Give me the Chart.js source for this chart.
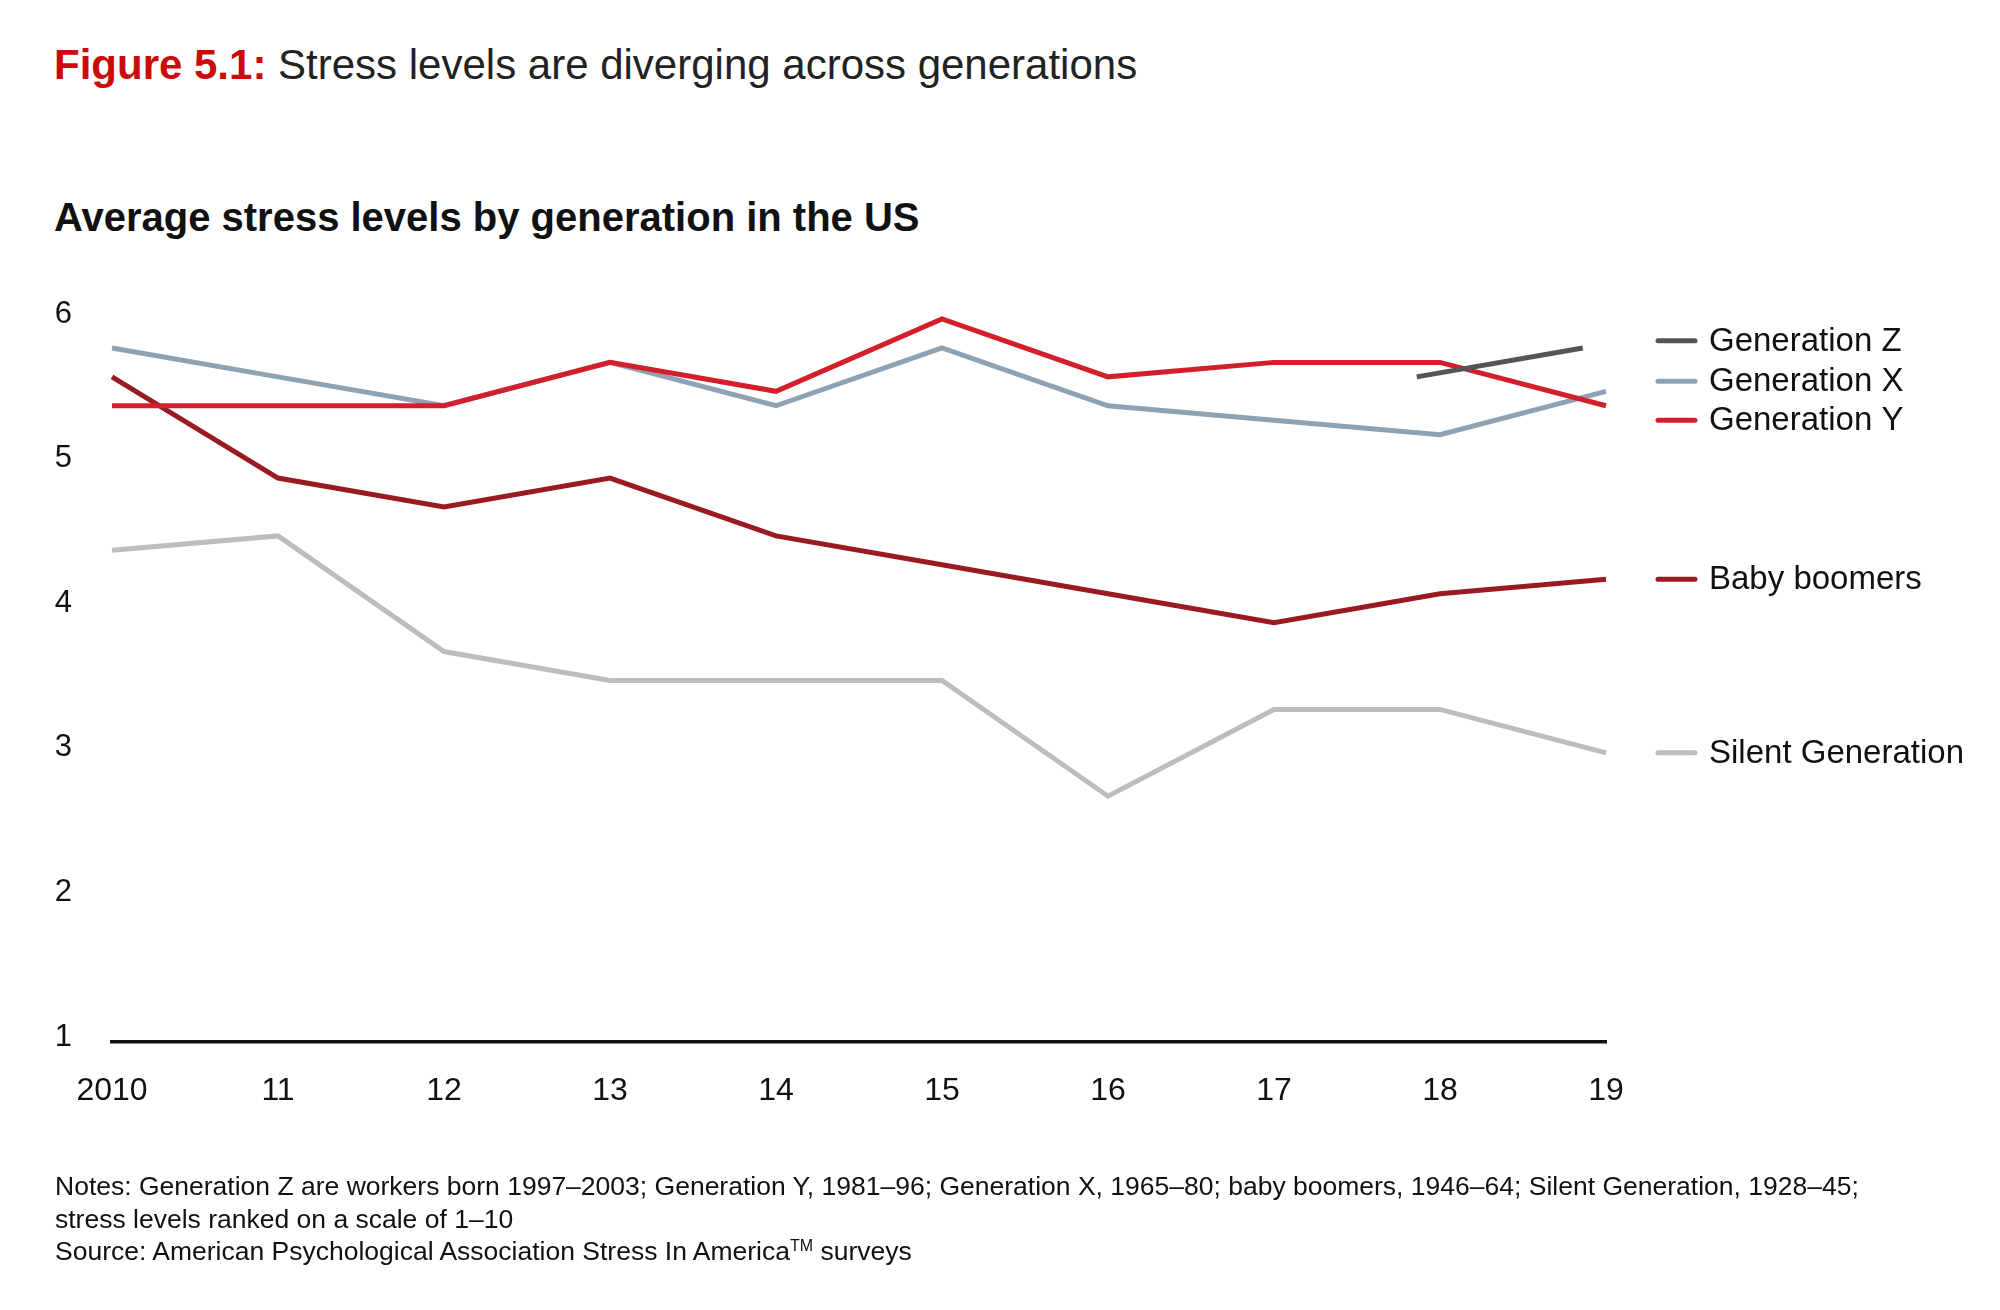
<!DOCTYPE html>
<html>
<head>
<meta charset="utf-8">
<script src="https://cdn.jsdelivr.net/npm/chart.js@4.4.1/dist/chart.umd.min.js"></script>
<style>
html, body { margin: 0; padding: 0; background: #fff; }
body { width: 2000px; height: 1310px; position: relative; overflow: hidden; font-family: "Liberation Sans", Arial, sans-serif; color: #111; }
#chart { position: absolute; left: 0; top: 0; }
.title { position: absolute; left: 54px; top: 44px; font-size: 42px; line-height: 1; color: #222; white-space: nowrap; }
.title b { color: #cc0a0a; }
.sub { position: absolute; left: 54px; top: 197px; font-size: 40px; line-height: 1; font-weight: bold; white-space: nowrap; }
.notes { position: absolute; left: 55px; top: 1170px; font-size: 26.5px; line-height: 32.5px; white-space: nowrap; }
.notes sup { font-size: 16px; vertical-align: 9px; line-height: 0; }
</style>
</head>
<body>
<div class="title"><b>Figure 5.1:</b> Stress levels are diverging across generations</div>
<div class="sub">Average stress levels by generation in the US</div>
<canvas id="chart" width="2000" height="1310"></canvas>
<div class="notes">Notes: Generation Z are workers born 1997–2003; Generation Y, 1981–96; Generation X, 1965–80; baby boomers, 1946–64; Silent Generation, 1928–45;<br>stress levels ranked on a scale of 1–10<br>Source: American Psychological Association Stress In America<sup>TM</sup> surveys</div>
<script>
// valores (escala 1-10)
const years = ['2010', '11', '12', '13', '14', '15', '16', '17', '18', '19'];
const genZ = [null, null, null, null, null, null, null, null, 5.6, 5.8];
const genY = [5.4, 5.4, 5.4, 5.7, 5.5, 6.0, 5.6, 5.7, 5.7, 5.4];
const boomers = [5.6, 4.9, 4.7, 4.9, 4.5, 4.3, 4.1, 3.9, 4.1, 4.2];
const genX = [5.8, 5.6, 5.4, 5.7, 5.4, 5.8, 5.4, 5.3, 5.2, 5.5];
const silent = [4.4, 4.5, 3.7, 3.5, 3.5, 3.5, 2.7, 3.3, 3.3, 3.0];
const yTicks = [1, 2, 3, 4, 5, 6];

const FONT = '"Liberation Sans", Arial, sans-serif';

// Generation Z aparece corrida un poco a la izquierda en el original
const nudge = {
    id: 'nudge',
    beforeDatasetDraw(chart, args) {
        if (chart.data.datasets[args.index].label !== 'Generation Z') return;
        const x = chart.scales.x;
        chart.ctx.save();
        chart.ctx.translate(-0.14 * (x.getPixelForValue(1) - x.getPixelForValue(0)), 0);
    },
    afterDatasetDraw(chart, args) {
        if (chart.data.datasets[args.index].label !== 'Generation Z') return;
        chart.ctx.restore();
    }
};

// leyenda al final de cada linea
const endLabels = {
    id: 'endLabels',
    afterDatasetsDraw(chart, args, opts) {
        const { ctx, chartArea, scales: { y } } = chart;
        const x0 = chartArea.right + 52;
        ctx.save();
        ctx.font = '33px ' + FONT;
        ctx.textBaseline = 'middle';
        ctx.lineCap = 'round';
        chart.data.datasets.forEach(ds => {
            const last = ds.data[ds.data.length - 1];
            const v = opts.anchors[ds.label] ?? last;
            const py = y.getPixelForValue(v);
            ctx.strokeStyle = ds.borderColor;
            ctx.lineWidth = 5;
            ctx.beginPath();
            ctx.moveTo(x0, py);
            ctx.lineTo(x0 + 37, py);
            ctx.stroke();
            ctx.fillStyle = '#111';
            ctx.fillText(ds.label, x0 + 51, py + 1);
        });
        ctx.restore();
    }
};

const line = (label, data, color) => ({
    label, data,
    borderColor: color,
    borderWidth: 5,
    pointRadius: 0,
    tension: 0,
    clip: false,
    spanGaps: false,
    borderJoinStyle: 'miter'
});

new Chart(document.getElementById('chart'), {
    type: 'line',
    data: {
        labels: years,
        datasets: [
            line('Generation Z', genZ, '#555555'),
            line('Generation Y', genY, '#d21f2b'),
            line('Baby boomers', boomers, '#9a1a22'),
            line('Generation X', genX, '#8fa2b3'),
            line('Silent Generation', silent, '#bdbdbd')
        ]
    },
    options: {
        responsive: false,
        devicePixelRatio: 1,
        animation: false,
        events: [],
        layout: { padding: { left: 0, top: 319, right: 394, bottom: 208 } },
        plugins: {
            legend: { display: false },
            tooltip: { enabled: false },
            endLabels: { anchors: { 'Generation Z': 5.85, 'Generation X': 5.57, 'Generation Y': 5.3 } }
        },
        scales: {
            x: {
                type: 'category',
                offset: false,
                grid: { display: false, drawTicks: false },
                border: { display: true, color: '#111', width: 3.5 },
                ticks: { font: { family: FONT, size: 32 }, color: '#111', padding: 30, maxRotation: 0, autoSkip: false },
                afterFit: s => { s.height = 60; }
            },
            y: {
                min: 1,
                max: 6,
                grid: { display: false, drawTicks: false },
                border: { display: false },
                afterBuildTicks: s => { s.ticks = yTicks.map(v => ({ value: v })); },
                ticks: { font: { family: FONT, size: 31 }, color: '#111', padding: 40, labelOffset: -5 },
                afterFit: s => { s.width = 112; }
            }
        }
    },
    plugins: [nudge, endLabels]
});
</script>
</body>
</html>
